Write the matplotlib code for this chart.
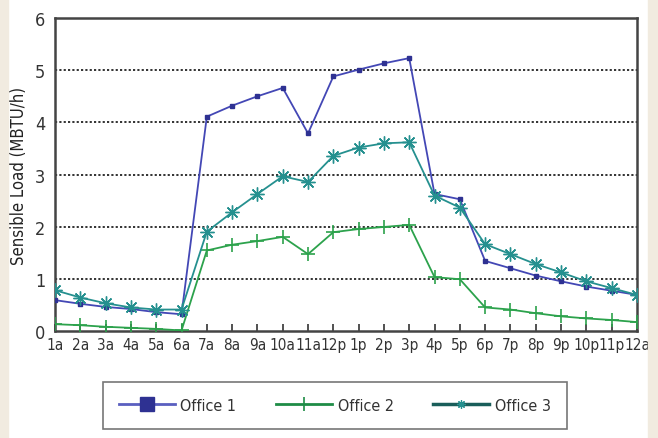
import matplotlib
matplotlib.use("Agg")
import matplotlib.pyplot as plt
from matplotlib.lines import Line2D
from matplotlib.patches import Rectangle

hours = ["1a", "2a", "3a", "4a", "5a", "6a", "7a", "8a", "9a", "10a", "11a", "12p",
         "1p", "2p", "3p", "4p", "5p", "6p", "7p", "8p", "9p", "10p", "11p", "12a"]

office1 = [0.60, 0.53, 0.47, 0.43, 0.37, 0.33, 4.11, 4.32, 4.50, 4.66, 3.79, 4.88,
           5.01, 5.13, 5.23, 2.63, 2.53, 1.35, 1.21, 1.07, 0.96, 0.86, 0.78, 0.70]
office2 = [0.14, 0.12, 0.09, 0.07, 0.05, 0.02, 1.55, 1.66, 1.73, 1.81, 1.48, 1.90,
           1.96, 2.00, 2.04, 1.04, 1.00, 0.46, 0.42, 0.35, 0.29, 0.25, 0.22, 0.18]
office3 = [0.79, 0.65, 0.54, 0.46, 0.42, 0.42, 1.91, 2.28, 2.63, 2.97, 2.86, 3.36,
           3.52, 3.60, 3.62, 2.60, 2.37, 1.67, 1.48, 1.29, 1.13, 0.96, 0.83, 0.70]

plt.rcParams["font.family"] = ["DejaVu Sans"]
plt.rcParams["font.stretch"] = "condensed"

fig = plt.figure(figsize=(6.58, 4.39), dpi=100)
# beige page edges
fig.patches.append(Rectangle((0, 0), 0.012, 1, transform=fig.transFigure,
                             color="#f1ebe0", zorder=0))
fig.patches.append(Rectangle((0.985, 0), 0.015, 1, transform=fig.transFigure,
                             color="#f1ebe0", zorder=0))

ax = fig.add_axes([0.0836, 0.2426, 0.8844, 0.7144])
x = list(range(1, len(hours) + 1))

c1, c2, c3 = "#4347b5", "#2ca24c", "#25908f"
ax.plot(x, office1, color=c1, lw=1.3, marker="s", ms=3.5,
        mfc="#2e3192", mec="#2e3192", zorder=3)
ax.plot(x, office2, color=c2, lw=1.3, marker="+", ms=10, mew=1.2, zorder=3)
ax.plot(x, office3, color=c3, lw=1.3, marker=(8, 2, 0), ms=10, mew=1.0, zorder=3)

ax.set_xlim(1, 24)
ax.set_ylim(0, 6)
ax.set_xticks(x)
ax.set_xticklabels(hours, fontsize=11, color="#333333")
ax.set_yticks(range(0, 7))
ax.set_yticklabels([str(v) for v in range(0, 7)], fontsize=13, color="#333333")
ax.tick_params(axis="x", direction="in", length=5, width=1.2, color="#333333", pad=4)
ax.tick_params(axis="y", length=0, pad=7)
for v in range(1, 6):
    ax.axhline(v, color="#222222", lw=1.3, ls=(0, (1.2, 1.2)), zorder=1)
for s in ax.spines.values():
    s.set_color("#444444")
    s.set_linewidth(1.8)
ax.set_ylabel("Sensible Load (MBTU/h)", fontsize=12, color="#222222", labelpad=5)

handles = [
    Line2D([], [], color="#5a5fc0", lw=2, marker="s", ms=10,
           mfc="#2e3192", mec="#2e3192"),
    Line2D([], [], color="#1e8c46", lw=2, marker="|", ms=10, mew=1.2),
    Line2D([], [], color="#1a5e5a", lw=2.5, marker=(8, 2, 0), ms=6,
           mec="#25908f", mew=0.9),
]
leg = fig.legend(handles, ["Office 1", "Office 2", "Office 3"], loc="upper left",
                 bbox_to_anchor=(0.156, 0.128), ncol=3, fontsize=11.5,
                 frameon=True, fancybox=False, handlelength=3.5,
                 columnspacing=2.5, borderpad=1.0, handletextpad=0.35,
                 borderaxespad=0)
leg.get_frame().set_edgecolor("#555555")
leg.get_frame().set_linewidth(1.2)
for t in leg.get_texts():
    t.set_color("#333333")

fig.savefig("out.png", dpi=100)
